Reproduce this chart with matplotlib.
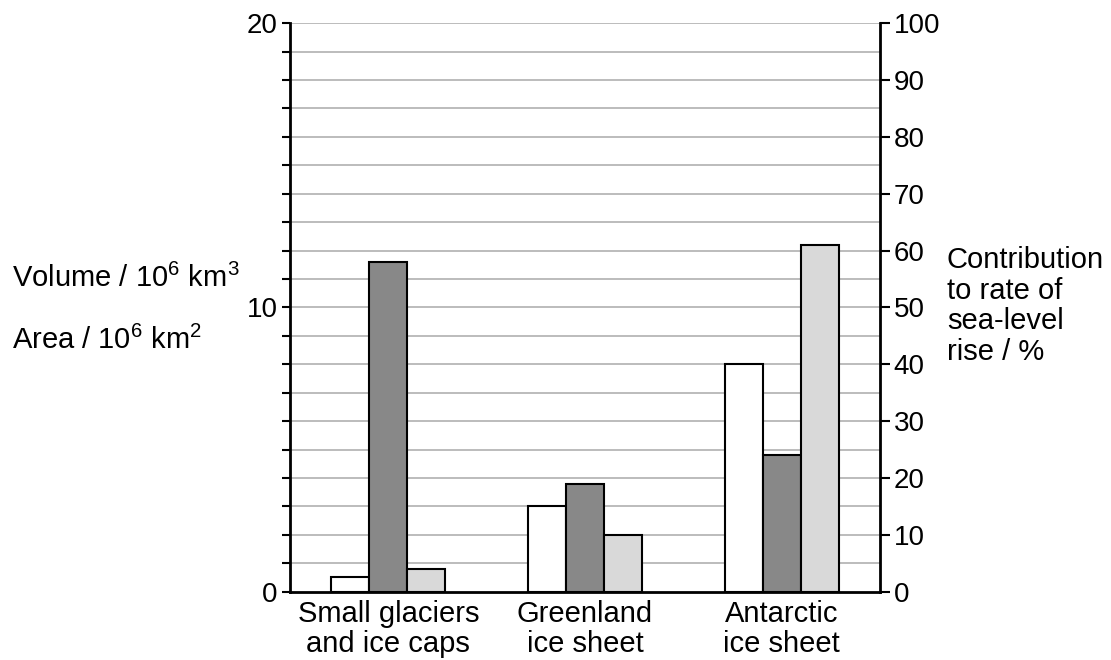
import matplotlib
matplotlib.use("Agg")
import matplotlib.pyplot as plt
import numpy as np
from matplotlib.ticker import FixedLocator, FuncFormatter

plt.rcParams['font.family'] = ['Liberation Sans', 'DejaVu Sans']
plt.rcParams['mathtext.fontset'] = 'custom'
plt.rcParams['mathtext.rm'] = 'Liberation Sans'
plt.rcParams['mathtext.it'] = 'Liberation Sans'
plt.rcParams['mathtext.default'] = 'rm'

categories = ["Small glaciers\nand ice caps", "Greenland\nice sheet", "Antarctic\nice sheet"]
series_white = [0.5, 3.0, 8.0]        # left axis (10^6)
series_dark = [11.6, 3.8, 4.8]        # left axis (10^6)
series_light_pct = [4, 10, 61]        # right axis (%)

left_ticks = list(range(0, 21))
left_labels = {0: "0", 10: "10", 20: "20"}
right_ticks = list(range(0, 101, 10))

fig = plt.figure(figsize=(11.11, 6.60), dpi=100)
ax = fig.add_axes([0.261, 0.1035, 0.531, 0.8615])
ax2 = ax.twinx()

x = np.arange(len(categories))
w = 0.193
edge = dict(edgecolor='black', linewidth=1.5)

ax.set_xlim(-0.5, 2.5)
ax.set_ylim(0, 20)
ax2.set_ylim(0, 100)

for y in left_ticks[1:]:
    ax.axhline(y, color='#b0b0b0', linewidth=1.2, zorder=0)

ax.bar(x - w, series_white, w, color='white', zorder=3, **edge)
ax.bar(x, series_dark, w, color='#888888', zorder=3, **edge)
ax2.bar(x + w, series_light_pct, w, color='#d9d9d9', zorder=3, **edge)

ax.yaxis.set_major_locator(FixedLocator(left_ticks))
ax.yaxis.set_major_formatter(FuncFormatter(lambda v, p: left_labels.get(int(round(v)), "")))
ax2.yaxis.set_major_locator(FixedLocator(right_ticks))

ax.set_xticks(x)
ax.set_xticklabels(categories, fontsize=21, linespacing=1.1)
ax.tick_params(axis='x', length=0, pad=6)
ax.tick_params(axis='y', length=6, width=1.5, labelsize=20, pad=3)
ax2.tick_params(axis='y', length=7, width=1.5, labelsize=20, pad=3)

for a in (ax, ax2):
    a.spines['top'].set_visible(False)
    for s in ('left', 'right', 'bottom'):
        a.spines[s].set_linewidth(2)
ax.spines['right'].set_visible(False)
ax2.spines['left'].set_visible(False)
ax2.spines['bottom'].set_visible(False)

fig.text(12/1111, 1 - 278/660, r"Volume / 10$^{6}$ km$^{3}$", fontsize=21, va='center', ha='left')
fig.text(12/1111, 1 - 340/660, r"Area / 10$^{6}$ km$^{2}$", fontsize=21, va='center', ha='left')
fig.text(947/1111, 1 - 246/660, "Contribution\nto rate of\nsea-level\nrise / %", fontsize=21,
         va='top', ha='left', linespacing=1.12)

fig.savefig("out.png", dpi=100)
